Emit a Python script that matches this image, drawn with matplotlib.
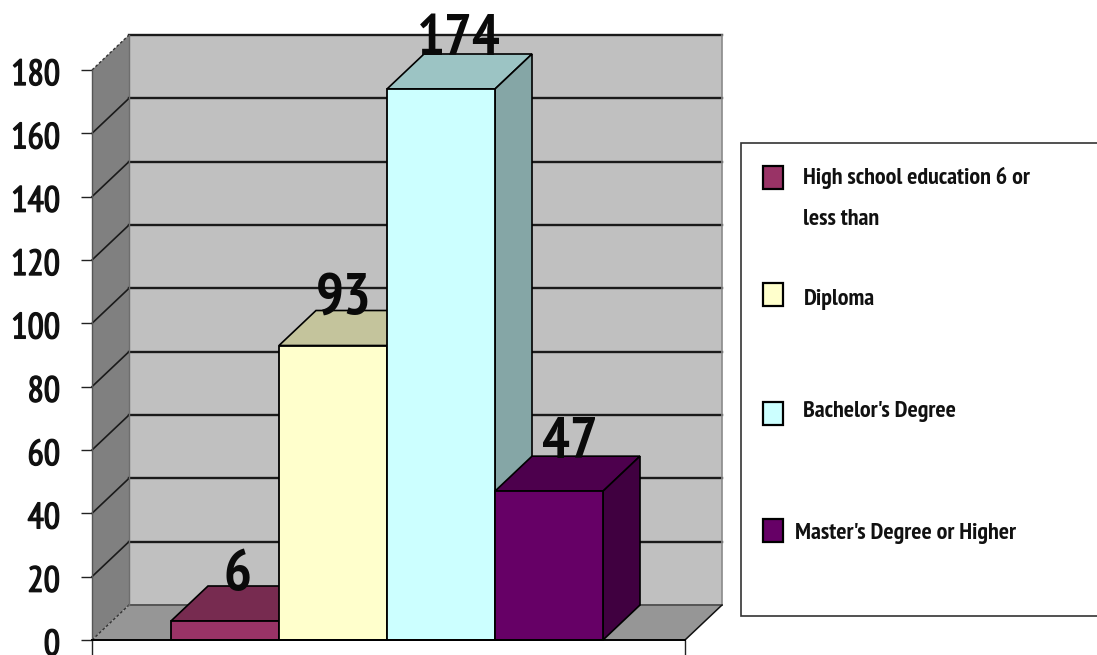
import matplotlib
matplotlib.use("Agg")
import matplotlib.pyplot as plt
import matplotlib.patheffects as pe
from matplotlib.patches import Polygon, Rectangle
from matplotlib.transforms import Affine2D

# ---- data ----
categories = ["High school education 6 or\nless than", "Diploma", "Bachelor's Degree", "Master's Degree or Higher"]
values = [6, 93, 174, 47]
y_ticks = [0, 20, 40, 60, 80, 100, 120, 140, 160, 180]

# ---- styles ----
front_colors = ["#993366", "#FFFFCC", "#CCFFFF", "#660066"]
top_colors = ["#772B50", "#C4C49C", "#9CC4C4", "#4D004D"]
side_colors = ["#662244", "#A8A885", "#85A6A6", "#400040"]
label_offsets_px = [(12, 31), (11, 32), (18, 34), (21, 33)]
WALL = "#C0C0C0"; SIDE = "#808080"; FLOOR = "#969696"; GRID = "#1A1A1A"
NUM_FONT = ["PT Sans Narrow", "Liberation Sans", "DejaVu Sans"]

W, H = 1097, 655
fig = plt.figure(figsize=(W / 100, H / 100), dpi=100, facecolor="white")
L, R, T, B = 92, 685, 70, 640
ax = fig.add_axes([L / W, 1 - B / H, (R - L) / W, (B - T) / H], facecolor="none")

bar_px = 108
x0 = -0.5 - (171 - L) / bar_px
x1 = x0 + (R - L) / bar_px
ax.set_xlim(x0, x1)
ax.set_ylim(0, 180)
DX = 37 / bar_px                # depth expressed in category units
DY = 35 / ((B - T) / 180)       # depth expressed in value units


def face(pts, **kw):
    kw.setdefault("clip_on", False)
    ax.add_patch(Polygon(pts, closed=True, **kw))


# walls and floor
face([(x0 + DX, DY), (x1 + DX, DY), (x1 + DX, 180 + DY), (x0 + DX, 180 + DY)], fc=WALL, ec="none", zorder=1)
face([(x0, 0), (x0 + DX, DY), (x0 + DX, 180 + DY), (x0, 180)], fc=SIDE, ec="none", zorder=1)
face([(x0, 0), (x1, 0), (x1 + DX, DY), (x0 + DX, DY)], fc=FLOOR, ec="none", zorder=1)

# gridlines on the back and left walls
for v in y_ticks[1:]:
    ax.plot([x0 + DX, x1 + DX], [v + DY, v + DY], color=GRID, lw=1.7, clip_on=False, zorder=2)
    if v < 180:
        ax.plot([x0, x0 + DX], [v, v + DY], color=GRID, lw=1.2, clip_on=False, zorder=2)
for v in (0, 180):
    ax.plot([x0, x0 + DX], [v, v + DY], color="#333333", lw=1, ls=(0, (2, 1.5)), clip_on=False, zorder=2)
ax.plot([x0 + DX, x1 + DX], [DY, DY], color="#555555", lw=1.4, clip_on=False, zorder=2)
ax.plot([x1 + DX, x1 + DX], [DY, 180 + DY], color="#8A8A8A", lw=1.2, clip_on=False, zorder=2)
ax.plot([x1, x1 + DX], [0, DY], color="#111111", lw=1.1, clip_on=False, zorder=2)
ax.plot([x0 + DX, x0 + DX], [DY, 180 + DY], color="#6E6E6E", lw=1, clip_on=False, zorder=2)

# 3-D bars: each one covers the previous bar's depth faces
for i, (v, cf, ct, cs) in enumerate(zip(values, front_colors, top_colors, side_colors)):
    z = 3 + i
    l, r = i - 0.5, i + 0.5
    face([(l, v), (r, v), (r + DX, v + DY), (l + DX, v + DY)], fc=ct, ec="black", lw=1.2, zorder=z)
    face([(r, 0), (r + DX, DY), (r + DX, v + DY), (r, v)], fc=cs, ec="black", lw=1.2, zorder=z)
    ax.bar(i, v, width=1, color=cf, edgecolor="black", linewidth=1.3, zorder=z + 0.5, clip_on=False)

# value labels
for i, (v, off) in enumerate(zip(values, label_offsets_px)):
    ax.annotate(str(v), (i, v), xytext=off, textcoords="offset pixels", ha="center", va="baseline",
                fontsize=42, fontweight="bold", family=NUM_FONT, color="#0A0A0A", zorder=20,
                annotation_clip=False)

# axes
for s in ("top", "right"):
    ax.spines[s].set_visible(False)
ax.spines["left"].set_color("#555555")
ax.spines["left"].set_linewidth(1.0)
ax.spines["bottom"].set_color("black")
ax.spines["bottom"].set_linewidth(1.4)
ax.spines["bottom"].set_zorder(15)
ax.set_yticks(y_ticks)
ax.set_yticklabels([str(t) for t in y_ticks], family=NUM_FONT, fontsize=26, color="#111111")
ax.tick_params(axis="y", length=8, width=1, pad=15, color="#222222")
for lab in ax.get_yticklabels():
    lab.set_transform(lab.get_transform() + Affine2D().translate(0, -2))
    lab.set_path_effects([pe.withStroke(linewidth=1.0, foreground="#111111")])
ax.set_xticks([x0, x1])
ax.set_xticklabels(["", ""])
ax.tick_params(axis="x", length=12, width=1, color="#222222")


# legend, placed in figure pixels
def px(x, y):
    return x / W, 1 - y / H


fig.add_artist(Rectangle(px(741, 616), (W + 10 - 741) / W, (616 - 143) / H, transform=fig.transFigure,
                         fc="white", ec="#333333", lw=1.2))
swatch_y = [166, 283, 402, 519]
text_x = [803, 804, 803, 795]
text_y = [178, 300, 412, 534]
for cat, c, sy, tx, ty in zip(categories, front_colors, swatch_y, text_x, text_y):
    fig.add_artist(Rectangle(px(763, sy + 23), 20 / W, 23 / H, transform=fig.transFigure, fc=c, ec="black", lw=1.6))
    lines = cat.split("\n")
    for j, line in enumerate(lines):
        fig.text(*px(tx, ty + j * 41), line, family=NUM_FONT, fontsize=17.3, fontweight="bold",
                 color="#111111", ha="left", va="center")

fig.savefig("out.png", dpi=100, facecolor="white")
